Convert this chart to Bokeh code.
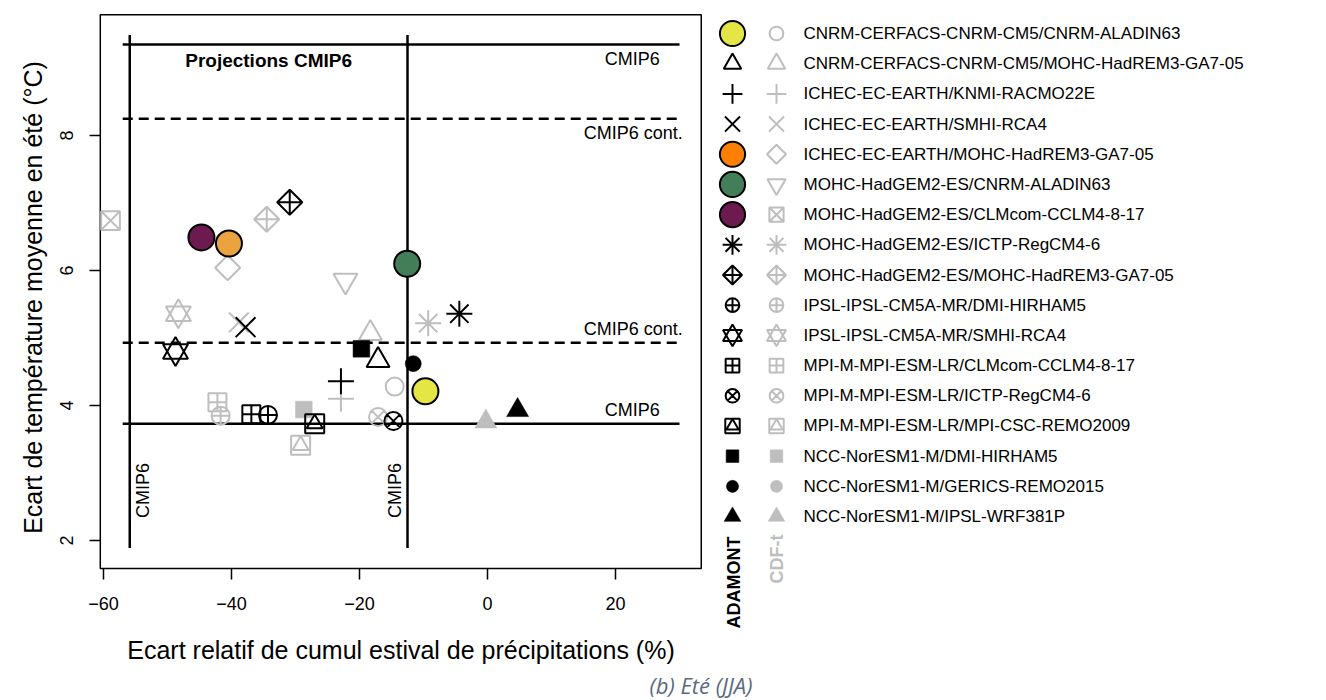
import math
from bokeh.plotting import figure
from bokeh.models import Range1d, Label, FixedTicker, LinearAxis
from bokeh.embed import file_html
from bokeh.resources import INLINE

# ---------------- data ----------------
models = [
    "CNRM-CERFACS-CNRM-CM5/CNRM-ALADIN63",
    "CNRM-CERFACS-CNRM-CM5/MOHC-HadREM3-GA7-05",
    "ICHEC-EC-EARTH/KNMI-RACMO22E",
    "ICHEC-EC-EARTH/SMHI-RCA4",
    "ICHEC-EC-EARTH/MOHC-HadREM3-GA7-05",
    "MOHC-HadGEM2-ES/CNRM-ALADIN63",
    "MOHC-HadGEM2-ES/CLMcom-CCLM4-8-17",
    "MOHC-HadGEM2-ES/ICTP-RegCM4-6",
    "MOHC-HadGEM2-ES/MOHC-HadREM3-GA7-05",
    "IPSL-IPSL-CM5A-MR/DMI-HIRHAM5",
    "IPSL-IPSL-CM5A-MR/SMHI-RCA4",
    "MPI-M-MPI-ESM-LR/CLMcom-CCLM4-8-17",
    "MPI-M-MPI-ESM-LR/ICTP-RegCM4-6",
    "MPI-M-MPI-ESM-LR/MPI-CSC-REMO2009",
    "NCC-NorESM1-M/DMI-HIRHAM5",
    "NCC-NorESM1-M/GERICS-REMO2015",
    "NCC-NorESM1-M/IPSL-WRF381P",
]
adamont_x = [-9.7, -17.1, -22.9, -37.8, -40.4, -12.55, -44.7, -4.4, -30.9,
             -34.3, -48.75, -36.9, -14.7, -27.0, -19.7, -11.6, 4.7]
adamont_y = [4.21, 4.67, 4.36, 5.16, 6.40, 6.10, 6.49, 5.36, 7.01,
             3.86, 4.80, 3.87, 3.77, 3.73, 4.84, 4.62, 3.93]
cdft_x = [-14.5, -18.3, -22.9, -38.85, -40.6, -22.2, -58.9, -9.27, -34.5,
          -41.7, -48.3, -42.2, -17.1, -29.2, -28.7, -9.9, -0.26]
cdft_y = [4.28, 5.07, 4.10, 5.23, 6.04, 5.85, 6.74, 5.22, 6.76,
          3.85, 5.36, 4.05, 3.83, 3.41, 3.94, 4.20, 3.76]
adamont_pch = [21, 2, 3, 4, 21, 21, 21, 8, 9, 10, 11, 12, 13, 14, 15, 16, 17]
cdft_pch = list(range(1, 18))
fill_plot = {0: "#E4E646", 4: "#EAA33F", 5: "#427E57", 6: "#6D1A50"}
fill_legend = {0: "#E4E646", 4: "#FF7F00", 5: "#427E57", 6: "#6D1A50"}

x_ticks = [-60, -40, -20, 0, 20]
y_ticks = [2, 4, 6, 8]

# CMIP6 reference lines
h_solid = [9.35, 3.73]
h_dash = [8.25, 4.93]
v_solid = [-55.9, -12.5]
line_x_span = [-57.0, 30.0]
line_y_span = [1.89, 9.49]

# axes box (plot region limits)
xlim = [-60.5, 33.4]
ylim = [1.585, 9.79]

GREY = "#BEBEBE"
FONT = "Liberation Sans"

# canvas <-> data mapping (the frame covers the whole canvas)
W, H = 1326, 700
PX_PER_X = 6.4
PX_PER_Y = 67.5
X_AT_0 = 487.0
Y_AT_0 = 675.0
X0 = (0 - X_AT_0) / PX_PER_X
X1 = (W - X_AT_0) / PX_PER_X
Y0 = (Y_AT_0 - H) / PX_PER_Y
Y1 = Y_AT_0 / PX_PER_Y


def cx(px):
    return (px - X_AT_0) / PX_PER_X


def cy(py):
    return (Y_AT_0 - py) / PX_PER_Y


def draw_pch(fig, xs, ys, pch, col, fill, k=1.0, kc=1.0):
    lw = 2
    if pch == 21:
        fig.scatter(xs, ys, marker="circle", size=26 * kc, fill_color=fill,
                    line_color="black", line_width=lw)
    elif pch == 1:
        fig.scatter(xs, ys, marker="circle", size=18 * k, fill_color=None,
                    line_color=col, line_width=lw)
    elif pch == 2:
        fig.scatter(xs, ys, marker="triangle", size=23 * k, fill_color=None,
                    line_color=col, line_width=lw)
    elif pch == 3:
        fig.scatter(xs, ys, marker="cross", size=26 * k, line_color=col, line_width=lw)
    elif pch == 4:
        fig.scatter(xs, ys, marker="x", size=28 * k, line_color=col, line_width=lw)
    elif pch == 5:
        fig.scatter(xs, ys, marker="square", size=17.7 * k, angle=math.pi / 4,
                    fill_color=None, line_color=col, line_width=lw)
    elif pch == 6:
        fig.scatter(xs, ys, marker="inverted_triangle", size=24 * k, fill_color=None,
                    line_color=col, line_width=lw)
    elif pch == 7:
        fig.scatter(xs, ys, marker="square_x", size=18.7 * k, fill_color=None,
                    line_color=col, line_width=lw)
    elif pch == 8:
        fig.scatter(xs, ys, marker="asterisk", size=26 * k, line_color=col, line_width=lw)
    elif pch == 9:
        fig.scatter(xs, ys, marker="square_x", size=17.7 * k, angle=math.pi / 4,
                    fill_color=None, line_color=col, line_width=lw)
    elif pch == 10:
        fig.scatter(xs, ys, marker="circle_cross", size=18 * k, fill_color=None,
                    line_color=col, line_width=lw)
    elif pch == 11:
        fig.scatter(xs, ys, marker="triangle", size=25 * k, fill_color=None,
                    line_color=col, line_width=lw)
        fig.scatter(xs, ys, marker="inverted_triangle", size=25 * k, fill_color=None,
                    line_color=col, line_width=lw)
    elif pch == 12:
        fig.scatter(xs, ys, marker="square_cross", size=18 * k, fill_color=None,
                    line_color=col, line_width=lw)
    elif pch == 13:
        fig.scatter(xs, ys, marker="circle_x", size=18 * k, fill_color=None,
                    line_color=col, line_width=lw)
    elif pch == 14:
        fig.scatter(xs, ys, marker="square", size=19 * k, fill_color=None,
                    line_color=col, line_width=lw)
        fig.scatter(xs, ys, marker="triangle", size=16 * k, fill_color=None,
                    line_color=col, line_width=lw)
    elif pch == 15:
        fig.scatter(xs, ys, marker="square", size=16.7 * k, fill_color=col,
                    line_color=col, line_width=0.5)
    elif pch == 16:
        fig.scatter(xs, ys, marker="circle", size=16 * k, fill_color=col,
                    line_color=col, line_width=0.5)
    elif pch == 17:
        fig.scatter(xs, ys, marker="triangle", size=22 * k, fill_color=col,
                    line_color=col, line_width=0.5)


p = figure(width=W, height=H, output_backend="svg", toolbar_location=None,
           x_range=Range1d(X0, X1), y_range=Range1d(Y0, Y1),
           x_axis_type=None, y_axis_type=None, min_border=0)
p.grid.visible = False
p.outline_line_color = None
p.background_fill_color = "white"
p.border_fill_color = "white"

# axes fixed at the edges of the plot box
xax = LinearAxis(fixed_location=ylim[0], ticker=FixedTicker(ticks=x_ticks))
yax = LinearAxis(fixed_location=xlim[0], ticker=FixedTicker(ticks=y_ticks))
for ax in (xax, yax):
    ax.axis_line_color = None
    ax.major_tick_line_color = "black"
    ax.major_tick_line_width = 1.5
    ax.major_tick_out = 11
    ax.major_tick_in = 0
    ax.minor_tick_line_color = None
    ax.major_label_text_font = FONT
    ax.major_label_text_font_size = "18px"
    ax.major_label_text_color = "black"
xax.major_label_standoff = 17
yax.major_label_standoff = 16
yax.major_label_orientation = "vertical"
p.add_layout(xax, "below")
p.add_layout(yax, "left")

# plot box
p.quad(left=[xlim[0]], right=[xlim[1]], bottom=[ylim[0]], top=[ylim[1]],
       fill_color=None, line_color="black", line_width=1.5)

# axis titles
p.add_layout(Label(x=cx(400.5), y=cy(649), text="Ecart relatif de cumul estival de précipitations (%)",
                   text_align="center", text_baseline="middle", text_font=FONT,
                   text_font_size="25px", text_color="black"))
p.add_layout(Label(x=cx(32), y=cy(297), text="Ecart de température moyenne en été (°C)",
                   angle=math.pi / 2, text_align="center", text_baseline="middle",
                   text_font=FONT, text_font_size="25px", text_color="black"))

for yv in h_solid:
    p.line(line_x_span, [yv, yv], line_color="black", line_width=2.5)
for yv in h_dash:
    p.line(line_x_span, [yv, yv], line_color="black", line_width=2.5, line_dash="10 6")
for xv in v_solid:
    p.line([xv, xv], line_y_span, line_color="black", line_width=2.5)

lab_kw = dict(text_font=FONT, text_font_size="18px", text_color="black")
p.add_layout(Label(x=26.9, y=9.13, text="CMIP6", text_align="right",
                   text_baseline="middle", **lab_kw))
p.add_layout(Label(x=30.5, y=8.03, text="CMIP6 cont.", text_align="right",
                   text_baseline="middle", **lab_kw))
p.add_layout(Label(x=30.5, y=5.13, text="CMIP6 cont.", text_align="right",
                   text_baseline="middle", **lab_kw))
p.add_layout(Label(x=26.9, y=3.93, text="CMIP6", text_align="right",
                   text_baseline="middle", **lab_kw))
p.add_layout(Label(x=-53.9, y=2.74, text="CMIP6", angle=math.pi / 2, text_align="center",
                   text_baseline="middle", **lab_kw))
p.add_layout(Label(x=-14.5, y=2.74, text="CMIP6", angle=math.pi / 2, text_align="center",
                   text_baseline="middle", **lab_kw))
p.add_layout(Label(x=-34.2, y=9.11, text="Projections CMIP6", text_align="center",
                   text_baseline="middle", text_font=FONT, text_font_size="19px",
                   text_font_style="bold", text_color="black"))

for i in range(len(models)):
    draw_pch(p, [cdft_x[i]], [cdft_y[i]], cdft_pch[i], GREY, None)
for i in range(len(models)):
    draw_pch(p, [adamont_x[i]], [adamont_y[i]], adamont_pch[i], "black",
             fill_plot.get(i))

# ---------------- legend (outside the plot box) ----------------
ROW0, ROWSTEP = 33.0, 30.19
LK = 0.76
for i in range(len(models)):
    ry = cy(ROW0 + ROWSTEP * i)
    draw_pch(p, [cx(732)], [ry], adamont_pch[i], "black", fill_legend.get(i), k=LK, kc=0.97)
    draw_pch(p, [cx(776)], [ry], cdft_pch[i], GREY, None, k=LK)
    p.add_layout(Label(x=cx(803), y=ry, text=models[i], text_align="left",
                       text_baseline="middle", text_font=FONT,
                       text_font_size="17px", text_color="black"))

p.add_layout(Label(x=cx(733), y=cy(628), text="ADAMONT", angle=math.pi / 2, text_align="left",
                   text_baseline="middle", text_font=FONT, text_font_size="18px",
                   text_font_style="bold", text_color="black"))
p.add_layout(Label(x=cx(776), y=cy(583), text="CDF-t", angle=math.pi / 2, text_align="left",
                   text_baseline="middle", text_font=FONT, text_font_size="18px",
                   text_font_style="bold", text_color=GREY))

# ---------------- caption ----------------
p.add_layout(Label(x=cx(700.5), y=cy(684), text="(b) Eté (JJA)", text_align="center",
                   text_baseline="middle", text_font="Open Sans",
                   text_font_size="22px", text_font_style="italic",
                   text_color="#5B6A80"))

open("out.html", "w").write(file_html(p, INLINE))
